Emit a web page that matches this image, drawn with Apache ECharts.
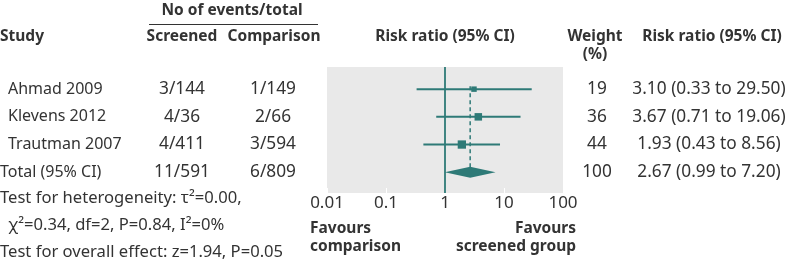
<!DOCTYPE html>
<html><head><meta charset="utf-8">
<script src="https://cdn.jsdelivr.net/npm/echarts@6/dist/echarts.min.js"></script>
<style>html,body{margin:0;padding:0;background:#fff}#c{width:790px;height:265px}</style>
</head><body><div id="c"></div><script>
// ---- data ----
const studies = ['Ahmad 2009', 'Klevens 2012', 'Trautman 2007', 'Total (95% CI)'];
const screened = ['3/144', '4/36', '4/411', '11/591'];
const comparison = ['1/149', '2/66', '3/594', '6/809'];
const weights = [19, 36, 44, 100];
const rr = [3.10, 3.67, 1.93, 2.67];
const lo = [0.33, 0.71, 0.43, 0.99];
const hi = [29.50, 19.06, 8.56, 7.20];
const xTickValues = [0.01, 0.1, 1, 10, 100];
const xTickLabels = ['0.01', '0.1', '1', '10', '100'];
const footer = [
  'Test for heterogeneity: τ²=0.00,',
  ' χ²=0.34, df=2, P=0.84, I²=0%',
  'Test for overall effect: z=1.94, P=0.05'
];

// ---- styling ----
const FONT = 'Noto Sans';
const TXT = '#333333';
const TEAL = '#2e7a77';
const GRAY = '#e9e9e9';
const FS_BOLD = 15.5;
const FS_NAME = 16;
const FS_NUM = 17.3;
const FS_FOOT = 16.6;

const chart = echarts.init(document.getElementById('c'), null, { renderer: 'canvas' });
const rowIdx = studies.map((s, i) => i + 1);
const pooled = studies.length - 1;

const ciData = [];
for (let i = 0; i < pooled; i++) ciData.push([lo[i], hi[i], rowIdx[i], rr[i], weights[i]]);

chart.setOption({
  animation: false,
  grid: { left: 327, top: 67, width: 236, height: 126, show: true, backgroundColor: GRAY, borderWidth: 0 },
  xAxis: {
    type: 'log', logBase: 10, min: xTickValues[0], max: xTickValues[xTickValues.length - 1],
    axisLine: { show: false },
    axisTick: { show: true, inside: true, length: 5, lineStyle: { color: '#ffffff', width: 1 } },
    splitLine: { show: false },
    axisLabel: {
      color: TXT, fontFamily: FONT, fontSize: 17, margin: 2,
      formatter: v => xTickLabels[Math.round(Math.log10(v)) + 2]
    }
  },
  yAxis: { type: 'value', inverse: true, min: 0.2, max: 4.75, show: false },
  series: [
    {
      type: 'custom', data: [[1, 1]], z: 1,
      renderItem: (params, api) => {
        const x = api.coord([api.value(0), api.value(1)])[0];
        const cs = params.coordSys;
        return { type: 'line', shape: { x1: x, y1: cs.y, x2: x, y2: cs.y + cs.height }, style: { stroke: TEAL, lineWidth: 1.8 } };
      }
    },
    {
      type: 'custom', data: [[rr[pooled], rowIdx[0], rowIdx[pooled]]], z: 2,
      renderItem: (params, api) => {
        const a = api.coord([api.value(0), api.value(1)]);
        const b = api.coord([api.value(0), api.value(2)]);
        return { type: 'line', shape: { x1: a[0], y1: a[1] - 3, x2: b[0], y2: b[1] - 5 }, style: { stroke: TEAL, lineWidth: 1.5, lineDash: [4, 3] } };
      }
    },
    {
      type: 'custom', data: ciData, z: 3,
      renderItem: (params, api) => {
        const a = api.coord([api.value(0), api.value(2)]);
        const b = api.coord([api.value(1), api.value(2)]);
        const c = api.coord([api.value(3), api.value(2)]);
        const s = Math.sqrt(api.value(4)) * 1.25;
        return { type: 'group', children: [
          { type: 'line', shape: { x1: a[0], y1: a[1], x2: b[0], y2: b[1] }, style: { stroke: TEAL, lineWidth: 2 } },
          { type: 'rect', shape: { x: c[0] - s / 2, y: c[1] - s / 2, width: s, height: s }, style: { fill: TEAL } }
        ] };
      }
    },
    {
      type: 'custom', data: [[lo[pooled], hi[pooled], rowIdx[pooled], rr[pooled]]], z: 3,
      renderItem: (params, api) => {
        const l = api.coord([api.value(0), api.value(2)]);
        const r = api.coord([api.value(1), api.value(2)]);
        const m = api.coord([api.value(3), api.value(2)]);
        const h = 5.5;
        return { type: 'polygon', shape: { points: [[l[0], l[1]], [m[0], m[1] - h], [r[0], r[1]], [m[0], m[1] + h]] }, style: { fill: TEAL } };
      }
    }
  ]
});

function txt(text, x, y, align, size, bold) {
  return {
    type: 'text', x: x, y: y, silent: true,
    style: { text: text, fill: TXT, fontFamily: FONT, fontSize: size, fontWeight: bold ? 'bold' : 'normal', align: align || 'left', verticalAlign: 'middle' }
  };
}

const g = [];
// headers
g.push(txt('No of events/total', 232, 11, 'center', FS_BOLD, true));
g.push({ type: 'line', silent: true, shape: { x1: 149, y1: 24.5, x2: 318, y2: 24.5 }, style: { stroke: TXT, lineWidth: 1.2 } });
g.push(txt('Study', 0, 37, 'left', FS_BOLD, true));
g.push(txt('Screened', 182, 37, 'center', FS_BOLD, true));
g.push(txt('Comparison', 274, 37, 'center', FS_BOLD, true));
g.push(txt('Risk ratio (95% CI)', 445, 37, 'center', FS_BOLD, true));
g.push(txt('Weight', 595, 37, 'center', FS_BOLD, true));
g.push(txt('(%)', 595, 55, 'center', FS_BOLD, true));
g.push(txt('Risk ratio (95% CI)', 712, 37, 'center', FS_BOLD, true));

// rows
for (let i = 0; i < studies.length; i++) {
  const y = chart.convertToPixel({ yAxisIndex: 0 }, rowIdx[i]);
  g.push(txt(studies[i], i === pooled ? 0 : 8, y, 'left', FS_NAME));
  g.push(txt(screened[i], 182, y, 'center', FS_NUM));
  g.push(txt(comparison[i], 273, y, 'center', FS_NUM));
  g.push(txt(String(weights[i]), 597, y, 'center', FS_NUM));
  g.push(txt(rr[i].toFixed(2) + ' (' + lo[i].toFixed(2) + ' to ' + hi[i].toFixed(2) + ')', 709, y, 'center', FS_NUM));
}

// footer stats
g.push(txt(footer[0], 0, 198, 'left', FS_FOOT));
g.push(txt(footer[1], 4, 225, 'left', FS_FOOT));
g.push(txt(footer[2], 0, 252, 'left', FS_FOOT));

// favours labels
g.push(txt('Favours', 310, 229, 'left', FS_BOLD, true));
g.push(txt('comparison', 310, 247, 'left', FS_BOLD, true));
g.push(txt('Favours', 576, 229, 'right', FS_BOLD, true));
g.push(txt('screened group', 576, 247, 'right', FS_BOLD, true));

chart.setOption({ graphic: g });
</script></body></html>
